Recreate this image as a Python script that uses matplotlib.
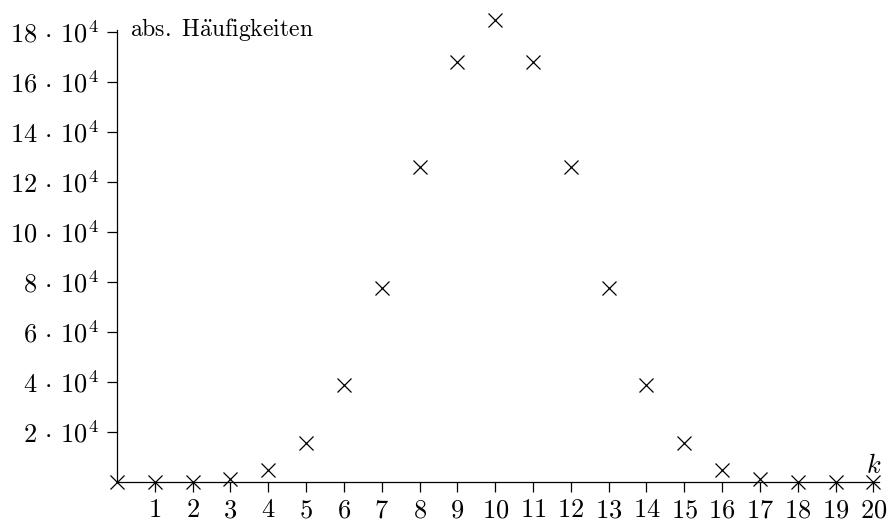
import matplotlib
matplotlib.use('Agg')
import matplotlib.pyplot as plt

plt.rcParams['mathtext.fontset'] = 'cm'
plt.rcParams['font.family'] = ['cmr10', 'DejaVu Serif']
plt.rcParams['axes.unicode_minus'] = False

# absolute frequencies for k = 0..20
k = list(range(21))
counts = [1, 20, 190, 1140, 4845, 15504, 38760, 77520, 125970, 167960, 184756,
          167960, 125970, 77520, 38760, 15504, 4845, 1140, 190, 20, 1]

xticks = list(range(1, 21))
yticks = [2e4, 4e4, 6e4, 8e4, 10e4, 12e4, 14e4, 16e4, 18e4]
ylabels = [r'$%d\,\cdot\,10^4$' % (v / 1e4) for v in yticks]

fig = plt.figure(figsize=(8.9, 5.21), dpi=100)
ax = fig.add_axes([117/890, 39/521, 762/890, 452.5/521])

ax.plot(k, counts, linestyle='none', marker='x', markersize=10,
        markeredgewidth=0.9, color='black', clip_on=False, zorder=5)

ax.set_xlim(0, 20.15)
ax.set_ylim(0, 18.1e4)

for s in ['top', 'right']:
    ax.spines[s].set_visible(False)
for s in ['left', 'bottom']:
    ax.spines[s].set_linewidth(0.9)

ax.set_xticks(xticks)
ax.set_xticklabels([r'$%d$' % v for v in xticks])
ax.set_yticks(yticks)
ax.set_yticklabels(ylabels)
ax.tick_params(axis='both', direction='out', length=7, width=0.9,
               labelsize=19, colors='black')
ax.tick_params(axis='x', pad=5)
ax.tick_params(axis='y', pad=6)

ax.text(13/762, 1.0, r'$\mathrm{abs.\ H\ddot{a}ufigkeiten}$', transform=ax.transAxes,
        fontsize=17, ha='left', va='center')
ax.text(20.0, 0.15e4, r'$k$', fontsize=19, ha='center', va='bottom')

fig.savefig('out.png', dpi=100)
